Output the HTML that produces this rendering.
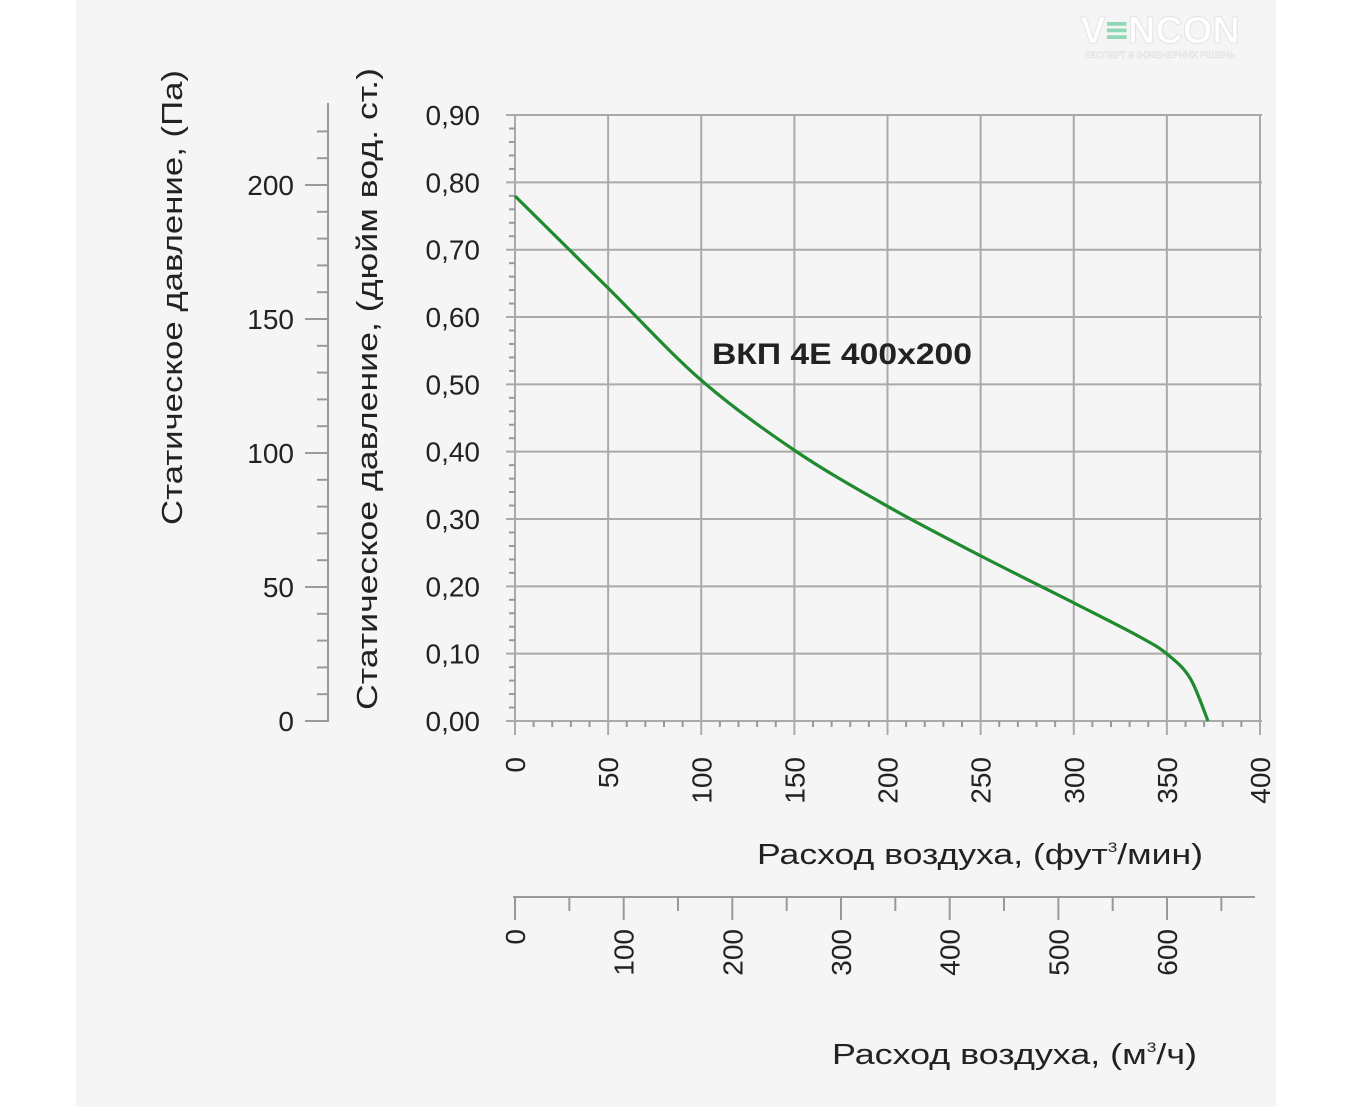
<!DOCTYPE html>
<html><head><meta charset="utf-8"><style>
html,body{margin:0;padding:0;background:#fff;}
svg{display:block;font-family:"Liberation Sans","DejaVu Sans",sans-serif;}
</style></head><body>
<svg id="s" width="1353" height="1107" xmlns="http://www.w3.org/2000/svg">
<rect x="0" y="0" width="1353" height="1107" fill="#fff"/>
<rect x="76" y="0" width="1200" height="1107" fill="#f5f5f5"/>
<text x="1160" y="43" font-size="38" font-weight="bold" fill="#fff" stroke="#e4e4e4" stroke-width="1" text-anchor="middle">V<tspan fill="#8fd8b5" stroke="#8fd8b5">≡</tspan>NCON</text>
<text x="1160" y="58" font-size="9" fill="#fff" stroke="#ddd" stroke-width="0.5" text-anchor="middle">ЕКСПЕРТ В ІНЖЕНЕРНИХ РІШЕНЬ</text>
<g id="g"></g>
<text x="712" y="364" font-size="30" font-weight="bold" fill="#222" textLength="260" lengthAdjust="spacingAndGlyphs">ВКП 4Е 400x200</text>
<text transform="translate(182,525) rotate(-90)" font-size="29" fill="#222" textLength="455" lengthAdjust="spacingAndGlyphs">Статическое давление, (Па)</text>
<text transform="translate(377,710) rotate(-90)" font-size="29" fill="#222" textLength="642" lengthAdjust="spacingAndGlyphs">Статическое давление, (дюйм вод. ст.)</text>
<text x="757" y="864" font-size="29" fill="#222" textLength="446" lengthAdjust="spacingAndGlyphs">Расход воздуха, (фут<tspan font-size="14" dy="-12">3</tspan><tspan dy="12">/мин)</tspan></text>
<text x="832" y="1064" font-size="29" fill="#222" textLength="365" lengthAdjust="spacingAndGlyphs">Расход воздуха, (м<tspan font-size="14" dy="-12">3</tspan><tspan dy="12">/ч)</tspan></text>
<path id="c" d="" fill="none" stroke="#1f8a2e" stroke-width="3.2"/>
</svg>
<script>
var g=document.getElementById('g'),h='';
function L(x1,y1,x2,y2,w,c){h+='<line x1="'+x1+'" y1="'+y1+'" x2="'+x2+'" y2="'+y2+'" stroke="'+(c||'#999')+'" stroke-width="'+(w||2)+'"/>';}
function T(x,y,t,a,rot){h+='<text '+(rot?'transform="translate('+x+','+y+') rotate(-90)"':'x="'+x+'" y="'+y+'"')+' font-size="28" fill="#222" text-anchor="'+a+'">'+t+'</text>';}
var x0=515,y0=721,dx=93.125,dy=67.33;
for(var i=0;i<=8;i++){var x=x0+i*dx;L(x,115,x,735,2,'#aaa');T(x+10,y0+36,i*50,'end',1);}
for(var j=0;j<=9;j++){var y=y0-j*dy;L(506,y,1262,y,2,'#aaa');T(480,y+10,(j/10).toFixed(2).replace('.',','),'end');}
for(var i=0;i<40;i++){if(i%5)L(x0+i*dx/5,y0,x0+i*dx/5,y0+6,2);}
for(var j=0;j<45;j++){if(j%5)L(x0,y0-j*dy/5,x0-6,y0-j*dy/5,2);}
L(328,103,328,722,2);
for(var p=0;p<=220;p+=10){var y=721-p*2.68;if(p%50==0){L(305,y,328,y,2);T(294,y+10,p,'end');}else L(317,y,328,y,2);}
L(513,897,1255,897,2);
for(var m=0;m<=650;m+=50){var x=515+m*1.0867;if(m%100==0){L(x,897,x,920,2);T(x+10,929,m,'end',1);}else L(x,897,x,911,2);}
g.innerHTML=h;
var P=[[515,196],[608,288],[701,380],[794,450],[887,506],[981,556],[1074,603],[1140,637],[1167,654],[1190,678],[1208,721]];
var d='M'+P[0];
for(var k=0;k<P.length-1;k++){var a=P[k-1]||P[k],b=P[k],c=P[k+1],e=P[k+2]||c;
d+=' C'+(b[0]+(c[0]-a[0])/6)+','+(b[1]+(c[1]-a[1])/6)+' '+(c[0]-(e[0]-b[0])/6)+','+(c[1]-(e[1]-b[1])/6)+' '+c;}
document.getElementById('c').setAttribute('d',d);
</script>
</body></html>
